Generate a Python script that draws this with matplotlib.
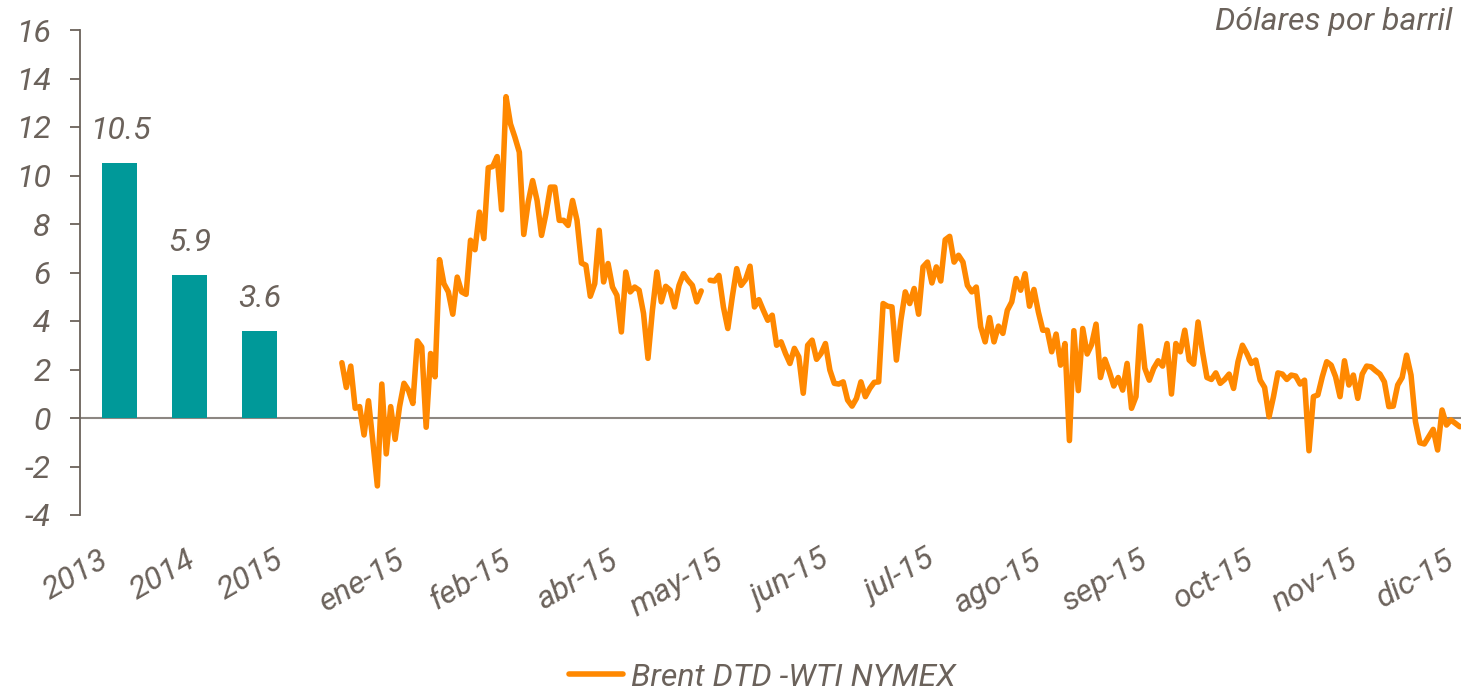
import numpy as np
import matplotlib.pyplot as plt

years = ['2013', '2014', '2015']
annual_spread = [10.5, 5.9, 3.6]
month_labels = ['ene-15', 'feb-15', 'abr-15', 'may-15', 'jun-15', 'jul-15',
                'ago-15', 'sep-15', 'oct-15', 'nov-15', 'dic-15']

# daily Brent DTD - WTI NYMEX spread in 2015 (nan = missing day)
daily_spread = [
    2.28, 1.26, 2.14, 0.40, 0.47, -0.70, 0.71, -1.0, -2.80, 1.40,
    -1.48, 0.47, -0.88, 0.47, 1.43, 1.15, 0.60, 3.18, 2.93, -0.38,
    2.66, 1.70, 6.53, 5.54, 5.20, 4.28, 5.81, 5.20, 5.10, 7.33,
    6.94, 8.49, 7.40, 10.32, 10.37, 10.78, 8.59, 13.25, 12.13, 11.58,
    10.96, 7.57, 8.9, 9.79, 8.97, 7.53, 8.42, 9.52, 9.52, 8.15,
    8.15, 7.94, 8.97, 8.15, 6.39, 6.30, 5.02, 5.54, 7.74, 5.61,
    6.37, 5.40, 5.06, 3.55, 6.02, 5.20, 5.40, 5.27, 4.31, 2.46,
    4.44, 6.02, 4.79, 5.43, 5.27, 4.58, 5.47, 5.95, 5.68, 5.47,
    4.79, 5.24, np.nan,
    5.68, 5.65, 5.88, 4.58, 3.69, 4.99, 6.16, 5.47, 5.71, 6.26,
    4.58, 4.88, 4.44, 4.03, 4.24, 3.00, 3.14, 2.66, 2.25, 2.87,
    2.52, 1.02, 3.00, 3.21, 2.42, 2.66, 3.07, 1.98, 1.43, 1.40,
    1.49, 0.74, 0.49, 0.81, 1.49, 0.88, 1.22, 1.47, 1.49, 4.72,
    4.61, 4.58, 2.39, 4.03, 5.20, 4.72, 5.34, 4.28, 6.23, 6.43,
    5.57, 6.23, 5.65, 7.35, 7.49, 6.43, 6.71, 6.43, 5.47, 5.20,
    5.40, 3.76, 3.14, 4.14, 3.14, 3.79, 3.49, 4.44, 4.79, 5.75,
    5.27, 5.95, 4.61, 5.30, 4.37, 3.62, 3.62, 2.73, 3.46, 2.18,
    3.07, -0.93, 3.60, 1.13, 3.69, 2.64, 3.03, 3.87, 1.67, 2.42,
    1.91, 1.32, 1.67, 1.15, 2.25, 0.40, 0.88, 3.79, 2.05, 1.56,
    2.05, 2.36, 2.14, 3.07, 0.99, 3.07, 2.73, 3.62, 2.39, 2.22,
    3.96, 2.73, 1.67, 1.59, 1.86, 1.43, 1.59, 1.81, 1.22, 2.32,
    3.00, 2.66, 2.25, 2.39, 1.56, 1.26, 0.05, 0.88, 1.86, 1.81,
    1.59, 1.77, 1.73, 1.40, 1.56, -1.35, 0.88, 0.95, 1.70, 2.32,
    2.18, 1.70, 0.88, 2.36, 1.36, 1.77, 0.81, 1.81, 2.14, 2.11,
    1.95, 1.81, 1.49, 0.47, 0.49, 1.36, 1.67, 2.59, 1.77, -0.15,
    -1.02, -1.07, -0.77, -0.47, -1.32, 0.33, -0.29, -0.08, -0.22, -0.36,
]

GREY = '#6b625b'
TEAL = '#009999'
ORANGE = '#ff8800'
FS = 23

plt.rcParams['font.family'] = ['Roboto', 'DejaVu Sans']
plt.rcParams['font.style'] = 'italic'
plt.rcParams['axes.unicode_minus'] = False

W, H = 1461, 691
fig = plt.figure(figsize=(W / 100, H / 100), dpi=100)
ax = fig.add_axes([80 / W, 1 - 515 / H, 1 - 80 / W, (515 - 30) / H])

# bars for the annual averages
bar_x = np.arange(len(years))
bars = ax.bar(bar_x, annual_spread, width=0.5, color=TEAL, zorder=2)
ax.bar_label(bars, labels=[f'{v:.1f}' for v in annual_spread], padding=13,
             fontsize=FS, color=GREY)

# daily line to the right of the bars
line_x = np.linspace(3.17, 19.14, len(daily_spread))
ax.plot(line_x, daily_spread, color=ORANGE, lw=4, solid_joinstyle='round',
        solid_capstyle='round', zorder=3, label='Brent DTD -WTI NYMEX')

ax.axhline(0, color='#8c8782', lw=1.5, zorder=1)

ax.set_xlim(-0.571, 19.157)
ax.set_ylim(-4, 16)
ax.set_yticks(range(-4, 17, 2))

tick_px = [99, 186, 274, 396, 501, 608, 714, 820, 926, 1032, 1138, 1244, 1348, 1445]
ax.set_xticks([(p - 120) / 70 for p in tick_px])
ax.set_xticklabels(years + month_labels, rotation=30, ha='right', va='top',
                   rotation_mode='anchor')
ax.tick_params(axis='x', length=0, pad=22, labelsize=FS, labelcolor=GREY)
ax.tick_params(axis='y', direction='out', length=7, width=1.3, color=GREY,
               pad=14, labelsize=FS, labelcolor=GREY)

for s in ['top', 'right', 'bottom']:
    ax.spines[s].set_visible(False)
ax.spines['left'].set_color(GREY)
ax.spines['left'].set_linewidth(1.3)

fig.text(1452 / W, 1 - 22 / H, 'Dólares por barril', ha='right', va='center',
         fontsize=FS, color=GREY)

fig.legend(loc='center', bbox_to_anchor=(762 / W, 1 - 677 / H), frameon=False,
           fontsize=FS, labelcolor=GREY, handlelength=1.7, handletextpad=0.25)

fig.savefig('out.png', dpi=100)
